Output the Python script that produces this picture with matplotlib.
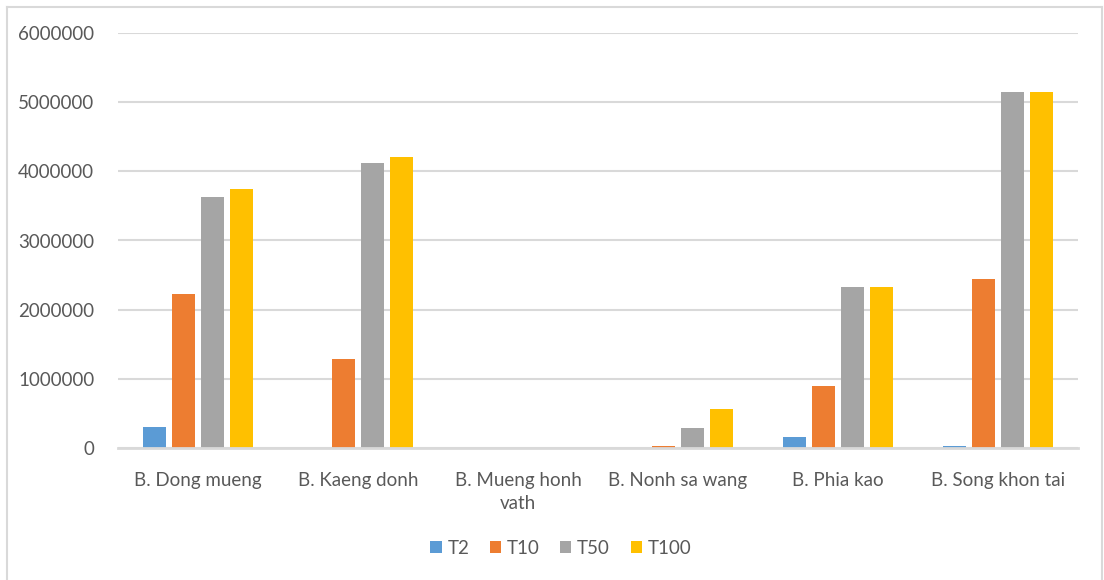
import matplotlib.pyplot as plt
import numpy as np
from matplotlib.lines import Line2D

villages = ["B. Dong mueng", "B. Kaeng donh", "B. Mueng honh\nvath",
            "B. Nonh sa wang", "B. Phia kao", "B. Song khon tai"]
series = ["T2", "T10", "T50", "T100"]
t2 = [300000, 0, 0, 0, 160000, 30000]
t10 = [2230000, 1290000, 0, 25000, 900000, 2440000]
t50 = [3630000, 4120000, 0, 290000, 2330000, 5140000]
t100 = [3740000, 4200000, 0, 560000, 2330000, 5140000]
colors = ["#5b9bd5", "#ed7d31", "#a5a5a5", "#ffc000"]

plt.rcParams['font.family'] = ['Lato', 'DejaVu Sans']

fig = plt.figure(figsize=(11.04, 5.8), dpi=100)
ax = fig.add_axes([118/1104, 1 - 448/580, 960/1104, 415/580])

x = np.arange(len(villages))
step = 29/160
width = 23/160
for i, (name, vals) in enumerate(zip(series, [t2, t10, t50, t100])):
    ax.bar(x + (i - 1.5)*step, vals, width, color=colors[i], label=name, zorder=3)

ax.set_xlim(-0.5, len(villages) - 0.5)
ax.set_ylim(0, 6000000)
ax.set_yticks(np.arange(0, 6000001, 1000000))
ax.set_yticklabels([str(v) for v in range(0, 6000001, 1000000)])
ax.set_xticks(x)
ax.set_xticklabels(villages, linespacing=1.45)
ax.grid(axis='y', color='#d9d9d9', linewidth=1.5, zorder=0)
for s in ['top', 'right', 'left']:
    ax.spines[s].set_visible(False)
ax.spines['bottom'].set_color('#d9d9d9')
ax.spines['bottom'].set_linewidth(2)
ax.spines['bottom'].set_zorder(4)
ax.tick_params(axis='both', length=0, labelsize=13.5, colors='#595959')
ax.tick_params(axis='x', pad=17)
ax.tick_params(axis='y', pad=17)

ax.legend(loc='center', bbox_to_anchor=(0.508, 1 - 548/580), bbox_transform=fig.transFigure,
          ncol=4, frameon=False, fontsize=13.5, handlelength=0.6, handleheight=0.6,
          handletextpad=0.3, columnspacing=1.1, labelcolor='#595959')

# chart border
for xs, ys in [([7/1104, 7/1104], [0, 1 - 7/580]),
               ([7/1104, 1102/1104], [1 - 7/580, 1 - 7/580]),
               ([1102/1104, 1102/1104], [1 - 7/580, 0])]:
    fig.add_artist(Line2D(xs, ys, color='#d9d9d9', linewidth=1.5, transform=fig.transFigure))

fig.savefig("out.png", dpi=100)
